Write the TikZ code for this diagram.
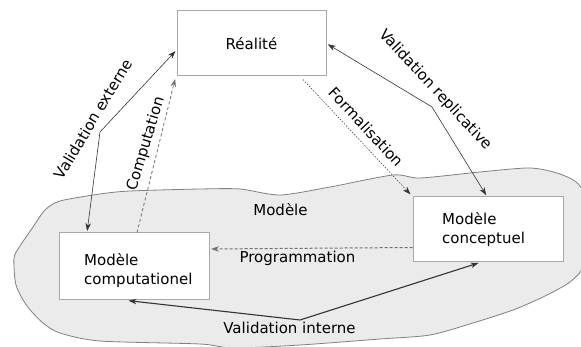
\documentclass[tikz,border=0pt]{standalone}
\usepackage{fontspec}
\setmainfont{DejaVu Sans}
\usetikzlibrary{arrows.meta}
\definecolor{blobfill}{HTML}{EBEBEB}
\definecolor{blobline}{HTML}{808080}
\definecolor{boxline}{HTML}{A8A8A8}
\definecolor{linkdark}{HTML}{333333}
\definecolor{linkgray}{HTML}{707070}

\begin{document}
\begin{tikzpicture}[x=1pt,y=-1pt,
  font=\fontsize{15}{19}\selectfont,
  box/.style={draw=boxline, line width=1pt, fill=white, inner sep=0pt},
  label/.style={inner sep=0pt, text=black},
  tip/.style={-{Stealth[length=8pt,width=5.5pt]}, shorten >=1.5pt},
  tips/.style={{Stealth[length=8pt,width=5.5pt]}-{Stealth[length=8pt,width=5.5pt]},
               shorten >=1.5pt, shorten <=1.5pt},
  solidlink/.style={draw=linkdark, line width=0.6pt},
  dashlink/.style={draw=linkgray, line width=0.8pt, dash pattern=on 3pt off 2.5pt},
  dotlink/.style={draw=linkdark, line width=0.5pt, dash pattern=on 1.5pt off 1.5pt},
  proglink/.style={draw=linkgray, line width=1pt, dash pattern=on 3pt off 2pt},
  intlink/.style={draw=linkdark, line width=1.1pt}
]
\useasboundingbox (0,0) rectangle (581,347);
\clip (0,0) rectangle (581,347);

% the grey "model" region
\filldraw[fill=blobfill, draw=blobline, line width=0.8pt]
  plot[smooth cycle, tension=0.45] coordinates {
    (60,201) (100,194) (130,191) (200,189) (240,189) (280,195) (330,187)
    (393,175) (420,178) (480,172) (530,168) (560,174) (580,186) (592,220)
    (584,265) (570,282) (543,297) (513,310) (473,323) (430,335) (380,339)
    (300,345) (233,348) (200,344) (100,341) (60,333) (43,323) (27,306)
    (16,285) (14,258) (20,246) (33,227) (45,210)};

% boxes
\node[box, minimum width=149pt, minimum height=65pt] (real) at (251.5,43.5) {Réalité};
\node[box, minimum width=150pt, minimum height=67pt] (comp) at (134,266.5) {};
\node[box, minimum width=150pt, minimum height=65pt] (concept) at (488,229.5) {};

\node[label, anchor=west, align=left] (comp-txt) at (84,270.5) {Modèle\\computationel};
\node[label, anchor=west, align=left] (concept-txt) at (442,229.5) {Modèle\\conceptuel};
\node[label, anchor=base] (model-txt) at (280.5,216) {Modèle};

% bends of the polyline connectors
\coordinate (ext-bend) at (100,132);
\coordinate (rep-bend) at (432,107);
\coordinate (int-bend) at (300,320);

% connectors
\draw[solidlink, tips] ([xshift=-47pt]comp.north) -- (ext-bend) -- ([yshift=-6.5pt]real.west);
\draw[dashlink, tip] ([xshift=3pt]comp.north) -- ([xshift=-1pt,yshift=-1pt]real.south west);
\draw[dotlink, tip] ([xshift=51.5pt,yshift=-3pt]real.south) -- ([xshift=-1pt,yshift=1pt]concept.north west);
\draw[solidlink, tips] (real.east) -- (rep-bend) -- ([xshift=-1pt]concept.north);
\draw[proglink, tip] ([yshift=-18pt]concept.west) -- ([yshift=17.5pt]comp.east);
\draw[intlink, tips] ([xshift=-7pt]comp.south) -- (int-bend) -- ([xshift=-8pt]concept.south);

% connector labels
\node[label, rotate=59] (ext-txt) at (93,119) {Validation externe};
\node[label, rotate=73] (cmp-txt) at (146,144) {Computation};
\node[label, rotate=-47] (form-txt) at (366,127) {Formalisation};
\node[label, rotate=-47] (rep-txt) at (435,90) {Validation replicative};
\node[label, anchor=base] (prog-txt) at (297.5,263) {Programmation};
\node[label, anchor=base] (int-txt) at (289.5,334) {Validation interne};
\end{tikzpicture}
\end{document}
